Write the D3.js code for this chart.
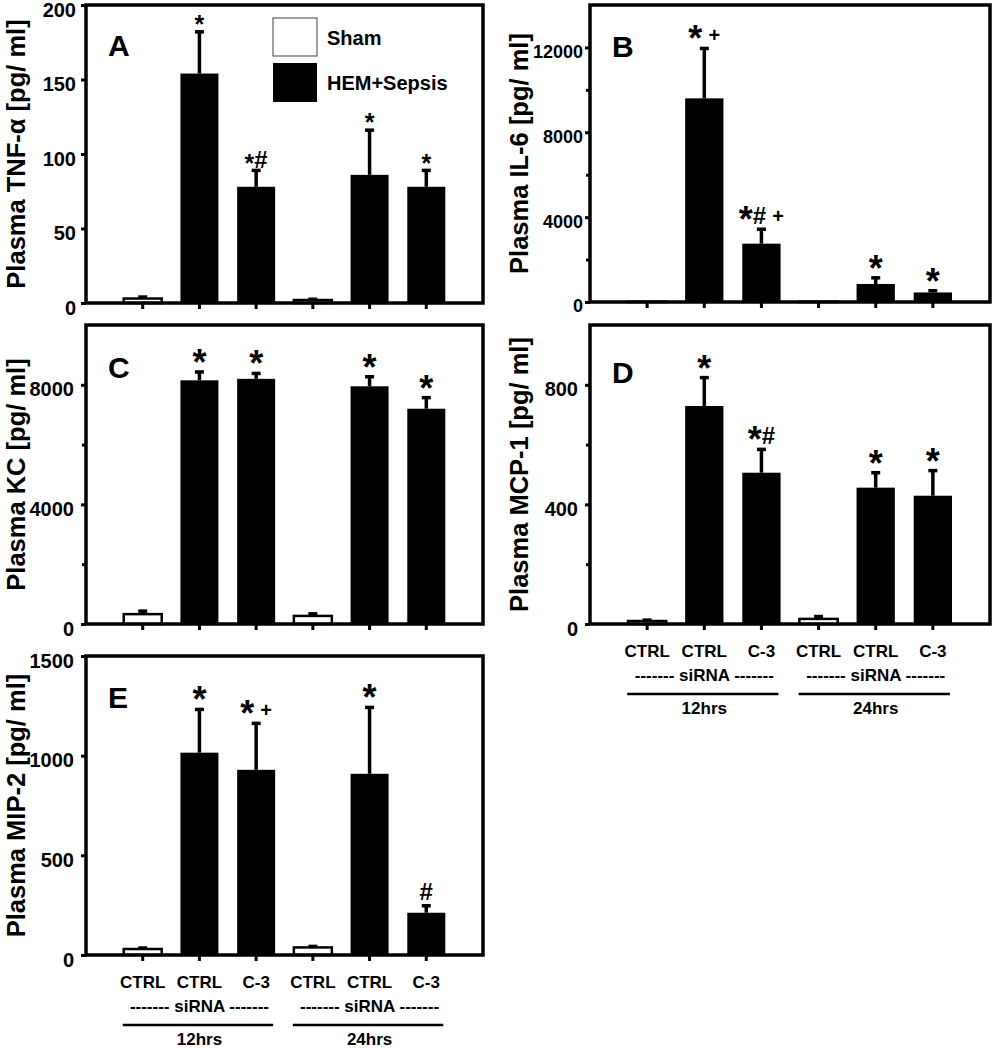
<!DOCTYPE html>
<html>
<head>
<meta charset="utf-8">
<script src="https://cdn.jsdelivr.net/npm/d3@7"></script>
<style>
  body { margin: 0; background: #fff; }
  text { font-family: "Liberation Sans", Arial, sans-serif; font-weight: bold; fill: #000; }
</style>
</head>
<body>
<div id="chart"></div>
<script>
const width = 994;
const height = 1050;

// x categories (same for every panel)
const groups = ["CTRL", "CTRL", "C-3", "CTRL", "CTRL", "C-3"];
const sham = [true, false, false, true, false, false];
const times = ["12hrs", "24hrs"];

// A: TNF-alpha
const tnfMean = [3, 154, 78, 2, 86, 78];
const tnfErr = [1, 28, 11, 0.5, 30, 11];
const tnfMarks = ["", "*", "*#", "", "*", "*"];
const tnfTicks = [0, 50, 100, 150, 200];

// B: IL-6
const il6Mean = [15, 9600, 2750, 15, 850, 450];
const il6Err = [0, 2350, 680, 0, 290, 80];
const il6Marks = ["", "* +", "*# +", "", "*", "*"];
const il6Ticks = [0, 4000, 8000, 12000];
const il6Minor = [2000, 6000, 10000];

// C: KC
const kcMean = [330, 8150, 8200, 270, 7950, 7200];
const kcErr = [100, 280, 180, 70, 320, 370];
const kcMarks = ["", "*", "*", "", "*", "*"];
const kcTicks = [0, 4000, 8000];
const kcMinor = [2000, 6000];

// D: MCP-1
const mcpMean = [10, 729, 506, 17, 456, 429];
const mcpErr = [3, 95, 78, 8, 50, 84];
const mcpMarks = ["", "*", "*#", "", "*", "*"];
const mcpTicks = [0, 400, 800];
const mcpMinor = [200, 600];

// E: MIP-2
const mipMean = [30, 1015, 929, 38, 909, 212];
const mipErr = [5, 217, 233, 5, 333, 35];
const mipMarks = ["", "*", "* +", "", "*", "#"];
const mipTicks = [0, 500, 1000, 1500];

const panels = [
    { letter: "A", title: "Plasma TNF-α [pg/ ml]", mean: tnfMean, err: tnfErr, marks: tnfMarks,
      max: 200, ticks: tnfTicks, minor: [], left: 86, right: 483, top: 5, bottom: 303,
      labelGap: 10, labelSize: 20, titleX: 25, letterDy: 51, small: true, legend: true },
    { letter: "B", title: "Plasma IL-6 [pg/ ml]", mean: il6Mean, err: il6Err, marks: il6Marks,
      max: 14000, ticks: il6Ticks, minor: il6Minor, left: 590, right: 990, top: 5, bottom: 302,
      labelGap: 7, labelSize: 18, titleX: 528, letterDy: 52 },
    { letter: "C", title: "Plasma KC [pg/ ml]", mean: kcMean, err: kcErr, marks: kcMarks,
      max: 10000, ticks: kcTicks, minor: kcMinor, left: 86, right: 483, top: 325, bottom: 624,
      labelGap: 12, labelSize: 20, titleX: 25, letterDy: 53 },
    { letter: "D", title: "Plasma MCP-1 [pg/ ml]", mean: mcpMean, err: mcpErr, marks: mcpMarks,
      max: 1000, ticks: mcpTicks, minor: mcpMinor, left: 590, right: 990, top: 325, bottom: 624,
      labelGap: 12, labelSize: 20, titleX: 528, letterDy: 58, xlabels: true },
    { letter: "E", title: "Plasma MIP-2 [pg/ ml]", mean: mipMean, err: mipErr, marks: mipMarks,
      max: 1500, ticks: mipTicks, minor: [], left: 86, right: 483, top: 656, bottom: 955,
      labelGap: 12, labelSize: 20, titleX: 25, letterDy: 52, xlabels: true }
];

const svg = d3.select("#chart")
    .append("svg")
    .attr("width", width)
    .attr("height", height);

panels.forEach(p => {
    const g = svg.append("g");

    const x = d3.scaleBand()
        .domain(d3.range(groups.length))
        .range([p.left, p.right])
        .paddingInner(0.33)
        .paddingOuter(0.665);

    const y = d3.scaleLinear()
        .domain([0, p.max])
        .range([p.bottom, p.top]);

    const cx = i => x(i) + x.bandwidth() / 2;

    // y axis, major ticks with labels
    const yAxis = g.append("g")
        .attr("transform", `translate(${p.left},0)`)
        .call(d3.axisLeft(y).tickValues(p.ticks).tickSize(5).tickPadding(p.labelGap - 5).tickFormat(d3.format("d")));
    yAxis.select(".domain").remove();
    yAxis.selectAll("line").attr("stroke", "#000").attr("stroke-width", 3);
    yAxis.selectAll("text")
        .attr("dy", "0.55em")
        .style("font-size", p.labelSize + "px")
        .style("font-family", "'Liberation Sans', Arial, sans-serif")
        .style("font-weight", "bold");

    // minor ticks
    if (p.minor.length) {
        const yMinor = g.append("g")
            .attr("transform", `translate(${p.left},0)`)
            .call(d3.axisLeft(y).tickValues(p.minor).tickSize(4).tickFormat(""));
        yMinor.select(".domain").remove();
        yMinor.selectAll("line").attr("stroke", "#000").attr("stroke-width", 3);
    }

    // bottom ticks under each bar
    const xAxis = g.append("g")
        .attr("transform", `translate(0,${p.bottom})`)
        .call(d3.axisBottom(x).tickSize(6).tickFormat(""));
    xAxis.select(".domain").remove();
    xAxis.selectAll("line").attr("stroke", "#000").attr("stroke-width", 3);

    // error bars (upper only)
    const eb = g.append("g");
    p.mean.forEach((m, i) => {
        const e = p.err[i];
        if (!e) return;
        eb.append("line")
            .attr("x1", cx(i)).attr("x2", cx(i))
            .attr("y1", y(m)).attr("y2", y(m + e))
            .attr("stroke", "#000").attr("stroke-width", 3.5);
        eb.append("line")
            .attr("x1", cx(i) - 4.5).attr("x2", cx(i) + 4.5)
            .attr("y1", y(m + e)).attr("y2", y(m + e))
            .attr("stroke", "#000").attr("stroke-width", 3.5);
    });

    // bars
    g.append("g")
        .selectAll("rect")
        .data(p.mean)
        .enter()
        .append("rect")
        .attr("x", (d, i) => x(i))
        .attr("width", x.bandwidth())
        .attr("y", d => y(d))
        .attr("height", d => y(0) - y(d))
        .attr("fill", (d, i) => sham[i] ? "#fff" : "#000")
        .attr("stroke", "#000")
        .attr("stroke-width", (d, i) => sham[i] ? 2.5 : 0);

    // significance marks, each glyph centred on the same line
    const S = p.small ? 25 : 36;   // asterisk size
    const H = 24;                  // hash size
    const P = 20;                  // plus size
    const gap = p.small ? 5 : 6;
    p.marks.forEach((mk, i) => {
        if (!mk) return;
        const top = y(p.mean[i] + p.err[i]);
        const hasStar = mk.includes("*");
        const cy = hasStar ? top - gap - 0.22 * S : top - gap - 0.35 * H;
        const base = ch => ch === "*" ? cy + 0.47 * S
            : ch === "#" ? cy + 0.35 * H
            : ch === "+" ? cy + 0.36 * P
            : cy + 4;
        const chars = mk.split("");
        let prev = base(chars[0]);
        const t = g.append("text")
            .attr("x", cx(i))
            .attr("y", prev)
            .attr("text-anchor", "middle");
        chars.forEach(ch => {
            const b = base(ch);
            t.append("tspan")
                .attr("dy", b - prev)
                .style("font-size", (ch === "*" ? S : ch === "#" ? H : ch === "+" ? P : 22) + "px")
                .text(ch === " " ? "\u00a0" : ch);
            prev = b;
        });
    });

    // frame
    g.append("rect")
        .attr("x", p.left).attr("y", p.top)
        .attr("width", p.right - p.left).attr("height", p.bottom - p.top)
        .attr("fill", "none").attr("stroke", "#000").attr("stroke-width", 3.5);

    // panel letter
    g.append("text")
        .attr("x", p.left + 22)
        .attr("y", p.top + p.letterDy)
        .style("font-size", "30px")
        .text(p.letter);

    // y title
    g.append("text")
        .attr("transform", `translate(${p.titleX},${(p.top + p.bottom) / 2}) rotate(-90)`)
        .attr("text-anchor", "middle")
        .style("font-size", "25.5px")
        .text(p.title);

    // legend (panel A)
    if (p.legend) {
        const lg = g.append("g");
        lg.append("rect").attr("x", 273).attr("y", 18).attr("width", 44).attr("height", 38)
            .attr("fill", "#fff").attr("stroke", "#444").attr("stroke-width", 1);
        lg.append("rect").attr("x", 273).attr("y", 63).attr("width", 44).attr("height", 39)
            .attr("fill", "#000");
        lg.append("text").attr("x", 327).attr("y", 45).style("font-size", "20px").text("Sham");
        lg.append("text").attr("x", 327).attr("y", 90).style("font-size", "20px").text("HEM+Sepsis");
    }

    // group labels under the bottom panels
    if (p.xlabels) {
        const xl = g.append("g");
        groups.forEach((gr, i) => {
            xl.append("text")
                .attr("x", cx(i)).attr("y", p.bottom + 33)
                .attr("text-anchor", "middle")
                .style("font-size", "17px")
                .text(gr);
        });
        times.forEach((tm, k) => {
            const a = k * 3, b = k * 3 + 2;
            xl.append("text")
                .attr("x", cx(a + 1)).attr("y", p.bottom + 57)
                .attr("text-anchor", "middle")
                .style("font-size", "17px")
                .text("------- siRNA -------");
            xl.append("line")
                .attr("x1", cx(a) - 20).attr("x2", cx(b) + 17)
                .attr("y1", p.bottom + 70).attr("y2", p.bottom + 70)
                .attr("stroke", "#000").attr("stroke-width", 2.5);
            xl.append("text")
                .attr("x", cx(a + 1)).attr("y", p.bottom + 90)
                .attr("text-anchor", "middle")
                .style("font-size", "17px")
                .text(tm);
        });
    }
});
</script>
</body>
</html>
